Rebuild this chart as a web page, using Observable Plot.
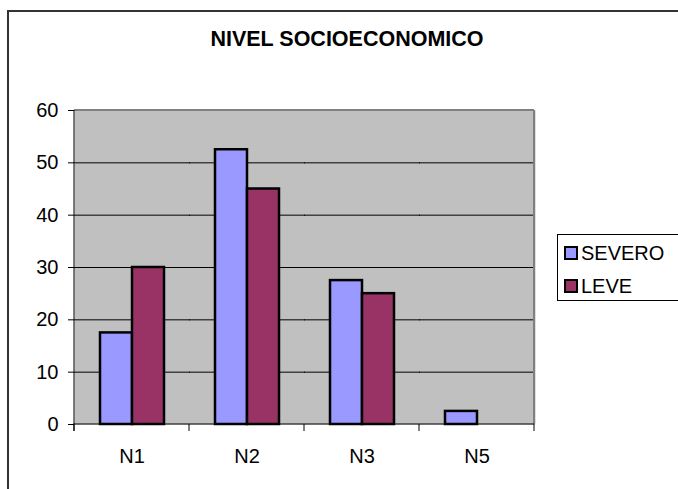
<!DOCTYPE html>
<html>
<head>
<meta charset="utf-8">
<script src="https://cdn.jsdelivr.net/npm/d3@7"></script>
<script src="https://cdn.jsdelivr.net/npm/@observablehq/plot@0.6"></script>
<style>
  html, body { margin: 0; background: #fff; overflow: hidden; }
  #wrap { position: relative; width: 678px; height: 489px; overflow: hidden; font-family: "Liberation Sans", Arial, sans-serif; color: #000; }
  #border { position: absolute; left: 7px; top: 10px; width: 720px; height: 520px; border: 2px solid #333; box-sizing: border-box; }
  #title { position: absolute; left: 0; width: 694px; top: 29px; text-align: center; font-weight: bold; font-size: 21.5px; line-height: 1; white-space: nowrap; }
  #legend { position: absolute; left: 557px; top: 234px; width: 140px; height: 67px; border: 1px solid #000; box-sizing: border-box; background: #fff; }
  .item { position: absolute; left: 6px; font-size: 20px; line-height: 1; white-space: nowrap; }
  .sw { display: inline-block; width: 10px; height: 10px; border: 2px solid #000; vertical-align: 0px; margin-right: 3px; }
  #chart { position: absolute; left: 0; top: 0; }
</style>
</head>
<body>
<div id="wrap">
  <div id="border"></div>
  <div id="chart"></div>
  <div id="title"></div>
  <div id="legend"></div>
</div>
<script>
const title = "NIVEL SOCIOECONOMICO";
const categories = ["N1", "N2", "N3", "N5"];
const series = ["SEVERO", "LEVE"];
const severo = [17.5, 52.5, 27.5, 2.5];
const leve = [30, 45, 25, 0];
const yTicks = [0, 10, 20, 30, 40, 50, 60];
const colors = ["#9999FF", "#993366"];

const data = categories.flatMap((c, i) => [
  {cat: c, serie: "SEVERO", value: severo[i]},
  {cat: c, serie: "LEVE", value: leve[i]}
]);

const chart = Plot.plot({
  width: 678,
  height: 489,
  marginLeft: 72,
  marginRight: 143,
  marginTop: 110,
  marginBottom: 65,
  style: {background: "transparent", fontFamily: "'Liberation Sans', Arial, sans-serif", fontSize: "20px", color: "#000", overflow: "visible"},
  fx: {domain: categories, padding: 0, label: null, axis: "bottom", tickSize: 0, tickPadding: 24},
  x: {domain: series, paddingInner: 0, paddingOuter: 0.75, axis: null},
  y: {domain: [0, 60], ticks: yTicks, label: null, tickSize: 6, tickPadding: 10, tickFormat: d3.format("d")},
  color: {domain: series, range: colors},
  marks: [
    Plot.frame({fill: "#c0c0c0", stroke: "none", insetRight: -1}),
    Plot.ruleY(yTicks.filter(t => t > 0 && t < 60), {stroke: "#000", strokeWidth: 1, insetRight: -1}),
    Plot.barY(data.filter(d => d.value > 0), {fx: "cat", x: "serie", y: "value", fill: "serie", stroke: "#000", strokeWidth: 2.5})
  ]
});
document.getElementById("chart").appendChild(chart);

// plot-area border and category tick marks, placed with the chart's own scales
const fx = chart.scale("fx"), y = chart.scale("y");
const x0 = fx.apply(categories[0]);
const x1 = fx.apply(categories[categories.length - 1]) + fx.bandwidth;
const yTop = y.apply(60), yBot = y.apply(0);
const svg = d3.select(chart);
const g = svg.append("g");
g.append("line").attr("x1", x0).attr("x2", x1).attr("y1", yTop).attr("y2", yTop).attr("stroke", "#808080").attr("stroke-width", 2);
g.append("line").attr("x1", x1).attr("x2", x1).attr("y1", yTop).attr("y2", yBot).attr("stroke", "#808080").attr("stroke-width", 2);
g.append("line").attr("x1", x0).attr("x2", x0).attr("y1", yTop).attr("y2", yBot + 7).attr("stroke", "#000").attr("stroke-width", 1);
g.append("line").attr("x1", x0 - 1).attr("x2", x1).attr("y1", yBot).attr("y2", yBot).attr("stroke", "#000").attr("stroke-width", 1);
const bounds = categories.map(c => fx.apply(c)).concat([x1]);
bounds.forEach(b => g.append("line").attr("x1", b).attr("x2", b).attr("y1", yBot).attr("y2", yBot + 7).attr("stroke", "#000").attr("stroke-width", 1));

document.getElementById("title").textContent = title;
const legend = document.getElementById("legend");
series.forEach((s, i) => {
  const it = document.createElement("div");
  it.className = "item";
  it.style.top = (8 + i * 33) + "px";
  const sw = document.createElement("span");
  sw.className = "sw";
  sw.style.background = colors[i];
  it.appendChild(sw);
  it.appendChild(document.createTextNode(s));
  legend.appendChild(it);
});
</script>
</body>
</html>
